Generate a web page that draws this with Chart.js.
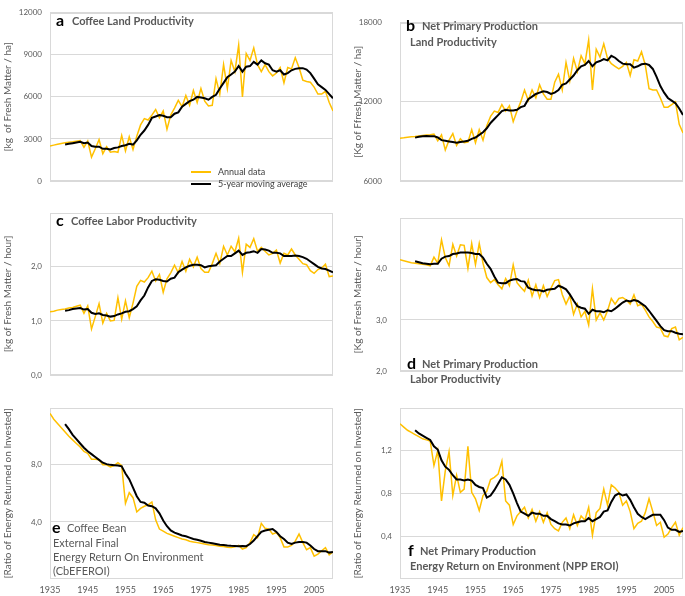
<!DOCTYPE html>
<html>
<head>
<meta charset="utf-8">
<script src="https://cdn.jsdelivr.net/npm/chart.js@4.4.1/dist/chart.umd.min.js"></script>
<style>
  body { margin: 0; background: #fff; }
  #wrap { position: relative; width: 685px; height: 596px; overflow: hidden; font-family: Lato, "Open Sans", sans-serif; }
  canvas { position: absolute; }
  .lbl { position: absolute; white-space: nowrap; line-height: 1; }
  .big { font-weight: bold; font-size: 16px; color: #000; }
  .t { font-weight: bold; font-size: 11px; color: #595959; }
  .tn { font-size: 11px; color: #595959; }
  .leg { position: absolute; font-size: 9px; color: #404040; white-space: nowrap; line-height: 1; }
  .swatch { position: absolute; width: 20px; height: 0; }
</style>
</head>
<body>
<div id="wrap">
  <canvas id="chartA" width="340" height="205" style="left:0;top:0"></canvas>
  <canvas id="chartB" width="340" height="205" style="left:345px;top:0"></canvas>
  <canvas id="chartC" width="340" height="200" style="left:0;top:200px"></canvas>
  <canvas id="chartD" width="340" height="200" style="left:345px;top:200px"></canvas>
  <canvas id="chartE" width="340" height="201" style="left:0;top:395px"></canvas>
  <canvas id="chartF" width="340" height="201" style="left:345px;top:395px"></canvas>

  <!-- panel labels -->
  <div class="lbl big" style="left:56px;top:12px">a</div>
  <div class="lbl t" style="left:72px;top:15px">Coffee Land Productivity</div>

  <div class="lbl big" style="left:406px;top:17px">b</div>
  <div class="lbl t" style="left:422px;top:20px">Net Primary Production</div>
  <div class="lbl t" style="left:410px;top:36px">Land Productivity</div>

  <div class="lbl big" style="left:56px;top:212px">c</div>
  <div class="lbl t" style="left:71px;top:215px">Coffee Labor Productivity</div>

  <div class="lbl big" style="left:407px;top:355px">d</div>
  <div class="lbl t" style="left:422px;top:358px">Net Primary Production</div>
  <div class="lbl t" style="left:410px;top:373px">Labor Productivity</div>

  <div class="lbl big" style="left:52px;top:519px">e</div>
  <div class="lbl tn" style="left:67px;top:522px">Coffee Bean</div>
  <div class="lbl tn" style="left:53px;top:537px">External Final</div>
  <div class="lbl tn" style="left:53px;top:551px">Energy Return On Environment</div>
  <div class="lbl tn" style="left:53px;top:565px">(CbEFEROI)</div>

  <div class="lbl big" style="left:408px;top:542px">f</div>
  <div class="lbl t" style="left:420px;top:545px">Net Primary Production</div>
  <div class="lbl t" style="left:410px;top:560px">Energy Return on Environment (NPP EROI)</div>

  <!-- legend of panel a -->
  <div class="swatch" style="left:191px;top:171px;border-top:2px solid #ffc000"></div>
  <div class="leg" style="left:218px;top:167px">Annual data</div>
  <div class="swatch" style="left:191px;top:183px;border-top:2px solid #000"></div>
  <div class="leg" style="left:218px;top:179px">5-year moving average</div>
</div>

<script>
// Years on the x axis and the labelled ticks
const years = [1935, 1936, 1937, 1938, 1939, 1940, 1941, 1942, 1943, 1944,
  1945, 1946, 1947, 1948, 1949, 1950, 1951, 1952, 1953, 1954,
  1955, 1956, 1957, 1958, 1959, 1960, 1961, 1962, 1963, 1964,
  1965, 1966, 1967, 1968, 1969, 1970, 1971, 1972, 1973, 1974,
  1975, 1976, 1977, 1978, 1979, 1980, 1981, 1982, 1983, 1984,
  1985, 1986, 1987, 1988, 1989, 1990, 1991, 1992, 1993, 1994,
  1995, 1996, 1997, 1998, 1999, 2000, 2001, 2002, 2003, 2004,
  2005, 2006, 2007, 2008, 2009, 2010];
const xTickYears = [1935, 1945, 1955, 1965, 1975, 1985, 1995, 2005];

// a - Coffee land productivity [kg / ha]
const landAnnual = [2500, 2560, 2620, 2680, 2730, 2770, 2800, 2840, 2880, 2400,
  2850, 1700, 2300, 2950, 1950, 2450, 2050, 2100, 2050, 3250,
  2150, 3150, 2250, 3200, 4000, 4450, 4350, 4700, 5100, 4500,
  5000, 3700, 4700, 5200, 5750, 5300, 6100, 5400, 6450, 5600,
  6600, 5700, 5350, 5400, 7300, 6200, 8300, 6600, 8600, 7800,
  9700, 6000, 9100, 8600, 9500, 8300, 7800, 8300, 7800, 7500,
  7700, 8100, 7000, 8100, 8000, 8800, 8100, 7200, 7100, 7050,
  6700, 6200, 6200, 6400, 5600, 5000];
const landMA = [null, null, null, null, 2600, 2650, 2700, 2750, 2800, 2700,
  2750, 2500, 2450, 2450, 2300, 2300, 2250, 2350, 2400, 2500,
  2550, 2650, 2600, 2900, 3300, 3600, 4000, 4500, 4600, 4700,
  4650, 4550, 4550, 4800, 4900, 5300, 5500, 5700, 5800, 6000,
  5950, 5900, 5800, 6000, 6150, 6600, 7000, 7400, 7600, 7800,
  8200, 7800, 8150, 8200, 8500, 8300, 8600, 8400, 8300, 7900,
  7800, 7900, 7600, 7700, 7900, 8000, 8050, 8050, 7950, 7700,
  7300, 6900, 6700, 6500, 6200, 5900];
const landTicks = [0, 3000, 6000, 9000, 12000];

// b - NPP land productivity [kg / ha]
const nppLandAnnual = [9250, 9280, 9320, 9350, 9380, 9420, 9450, 9480, 9500, 9550,
  9050, 9500, 8350, 9100, 9600, 8700, 9200, 8900, 8950, 9900,
  8900, 9900, 9100, 10200, 10900, 11300, 11200, 11800, 11300, 11700,
  10500, 11300, 12000, 12900, 12100, 12900, 12300, 13300, 12600, 12200,
  12200, 13500, 14100, 12900, 15000, 13600, 15300, 14300, 15500, 14900,
  16700, 12900, 16000, 15400, 16400, 15300, 14900, 14700, 14500, 14700,
  15000, 14000, 15200, 15100, 15800, 14800, 13000, 12900, 12900, 12300,
  11600, 11600, 11800, 12000, 10300, 9650];
const nppLandMA = [null, null, null, null, 9290, 9350, 9400, 9420, 9400, 9400,
  9300, 9100, 9050, 9000, 8950, 8900, 8950, 9000, 9050, 9200,
  9300, 9500, 9700, 10000, 10400, 10700, 11000, 11300, 11400, 11350,
  11350, 11400, 11600, 11700, 12200, 12400, 12600, 12700, 12800, 12750,
  12600, 12700, 12900, 13300, 13400, 13700, 14000, 14400, 14700, 14800,
  15100, 14700, 15000, 15100, 15250, 15150, 15500, 15350, 15100, 14900,
  14850, 14850, 14600, 14700, 14850, 14900, 14800, 14500, 13900, 13200,
  12700, 12300, 12100, 11900, 11500, 11000];
const nppLandTicks = [6000, 12000, 18000];

// c - Coffee labor productivity [kg / hour]
const laborAnnual = [1.17, 1.18, 1.2, 1.21, 1.22, 1.24, 1.25, 1.27, 1.29, 1.14,
  1.28, 0.85, 1.08, 1.32, 0.96, 1.14, 1.0, 1.01, 1.43, 1.03,
  1.37, 1.06, 1.33, 1.64, 1.75, 1.72, 1.8, 1.92, 1.74, 1.86,
  1.53, 1.78, 1.89, 2.03, 1.89, 2.1, 1.92, 2.14, 2.0, 2.18,
  1.97, 1.9, 1.9, 2.06, 2.25, 2.06, 2.38, 2.22, 2.38, 2.28,
  2.53, 1.9, 2.42, 2.36, 2.52, 2.29, 2.36, 2.29, 2.22, 2.25,
  2.31, 2.07, 2.25, 2.22, 2.33, 2.22, 2.14, 2.06, 2.04, 1.93,
  1.88, 1.95, 1.98, 2.05, 1.82, 1.83];
const laborMA = [null, null, null, null, 1.19, 1.2, 1.22, 1.23, 1.24, 1.21,
  1.22, 1.15, 1.13, 1.14, 1.11, 1.1, 1.08, 1.09, 1.12, 1.14,
  1.17, 1.18, 1.22, 1.27, 1.38, 1.47, 1.62, 1.74, 1.77, 1.76,
  1.74, 1.73, 1.78, 1.8, 1.9, 1.95, 1.99, 2.02, 2.04, 2.04,
  2.03, 1.99, 2.01, 2.02, 2.03, 2.1, 2.15, 2.2, 2.2, 2.25,
  2.3, 2.22, 2.26, 2.27, 2.29, 2.26, 2.33, 2.32, 2.3, 2.26,
  2.26, 2.25, 2.2, 2.2, 2.2, 2.21, 2.2, 2.18, 2.15, 2.1,
  2.05, 2.0, 1.97, 1.96, 1.93, 1.9];
const laborTicks = [0, 1, 2];

// d - NPP labor productivity [kg / hour]
const nppLaborAnnual = [4.18, 4.16, 4.14, 4.12, 4.11, 4.1, 4.09, 4.08, 4.06, 4.23,
  4.11, 4.57, 4.22, 4.06, 4.48, 4.25, 4.47, 4.46, 4.01, 4.5,
  4.08, 4.5, 4.11, 3.83, 3.73, 3.79, 3.69, 3.61, 3.81, 3.67,
  4.08, 3.73, 3.64, 3.56, 3.78, 3.47, 3.69, 3.44, 3.67, 3.46,
  3.62, 3.77, 3.79, 3.5, 3.31, 3.47, 3.11, 3.31, 3.06, 3.17,
  2.9, 3.61, 3.0, 3.14, 3.0, 3.18, 3.42, 3.31, 3.42, 3.44,
  3.39, 3.31, 3.49, 3.28, 3.31, 3.19, 3.06, 2.97, 2.86, 2.84,
  2.69, 2.67, 2.83, 2.86, 2.61, 2.66];
const nppLaborMA = [null, null, null, null, 4.15, 4.13, 4.11, 4.1, 4.09, 4.1,
  4.1, 4.2, 4.24, 4.25, 4.29, 4.3, 4.32, 4.32, 4.32, 4.31,
  4.29, 4.29, 4.22, 4.1, 4.0, 3.85, 3.73, 3.72, 3.72, 3.77,
  3.79, 3.8, 3.76, 3.75, 3.63, 3.6, 3.58, 3.58, 3.56, 3.59,
  3.6, 3.61, 3.67, 3.64, 3.6, 3.5, 3.38, 3.27, 3.24, 3.22,
  3.12, 3.2, 3.17, 3.17, 3.15, 3.19, 3.17, 3.22, 3.28, 3.34,
  3.38, 3.36, 3.39, 3.37, 3.32, 3.27, 3.18, 3.08, 2.98, 2.88,
  2.8, 2.78, 2.78, 2.75, 2.73, 2.72];
const nppLaborTicks = [2, 3, 4];

// e - Coffee bean external final EROI
const eroiAnnual = [11.6, 11.2, 10.9, 10.6, 10.3, 10.0, 9.75, 9.5, 9.25, 8.95,
  8.8, 8.4, 8.4, 8.35, 8.0, 8.0, 7.85, 7.95, 8.15, 7.95,
  5.3, 6.05, 5.7, 4.7, 4.95, 5.1, 5.2, 5.4, 4.15, 3.5,
  3.35, 3.2, 3.1, 3.0, 2.9, 2.8, 2.75, 2.65, 2.6, 2.55,
  2.5, 2.45, 2.4, 2.38, 2.35, 2.3, 2.28, 2.22, 2.2, 2.25,
  2.35, 2.1, 2.2, 2.55, 3.1, 2.9, 3.9, 3.55, 3.5, 3.15,
  3.25, 2.9, 2.25, 2.25, 2.35, 2.65, 3.15, 2.55, 2.05, 2.2,
  1.6, 1.75, 1.98, 2.2, 1.7, 1.9];
const eroiMA = [null, null, null, null, 10.85, 10.5, 10.1, 9.8, 9.5, 9.2,
  8.95, 8.75, 8.55, 8.35, 8.15, 8.05, 8.0, 7.98, 7.95, 7.9,
  7.4, 7.0, 6.4, 5.8, 5.4, 5.35, 5.15, 5.1, 4.95, 4.6,
  4.1, 3.7, 3.4, 3.25, 3.15, 3.05, 3.0, 2.9, 2.8, 2.75,
  2.68, 2.6, 2.55, 2.5, 2.45, 2.4, 2.38, 2.35, 2.33, 2.32,
  2.3, 2.32, 2.3, 2.45, 2.7, 3.0, 3.3, 3.4, 3.45, 3.5,
  3.3, 3.0, 2.8, 2.55, 2.45, 2.55, 2.6, 2.6, 2.55, 2.35,
  2.1, 1.95, 1.95, 1.95, 1.85, 1.9];
const eroiTicks = [4, 8];

// f - NPP energy return on environment
const nppEroiAnnual = [1.45, 1.42, 1.39, 1.37, 1.35, 1.33, 1.31, 1.3, 1.29, 1.06,
  1.2, 0.73, 1.01, 1.19, 0.78, 0.97, 0.81, 0.84, 1.24, 0.81,
  0.75, 0.64, 0.78, 0.82, 0.93, 0.95, 0.98, 1.1, 0.73, 0.69,
  0.51, 0.59, 0.63, 0.67, 0.57, 0.65, 0.54, 0.63, 0.53, 0.62,
  0.51, 0.47, 0.45, 0.53, 0.57, 0.47, 0.6, 0.5, 0.59, 0.55,
  0.67, 0.41, 0.62, 0.66, 0.84, 0.69, 0.88, 0.85, 0.81, 0.69,
  0.73, 0.63, 0.47, 0.52, 0.54, 0.62, 0.75, 0.63, 0.5, 0.53,
  0.39, 0.42, 0.48, 0.53, 0.41, 0.48];
const nppEroiMA = [null, null, null, null, 1.39, 1.36, 1.34, 1.32, 1.3, 1.24,
  1.21, 1.11, 1.05, 1.02, 0.97, 0.93, 0.93, 0.92, 0.93, 0.92,
  0.88, 0.86, 0.85, 0.76, 0.78, 0.83, 0.89, 0.95, 0.93, 0.88,
  0.8, 0.71, 0.63, 0.61, 0.59, 0.62, 0.61, 0.61, 0.59, 0.59,
  0.56, 0.54, 0.52, 0.51, 0.51, 0.5, 0.52, 0.53, 0.54, 0.54,
  0.57, 0.54, 0.56, 0.58, 0.63, 0.64, 0.72, 0.78, 0.8, 0.78,
  0.79, 0.74, 0.67, 0.61, 0.58, 0.56, 0.58, 0.6, 0.6, 0.6,
  0.55, 0.48, 0.46, 0.46, 0.44, 0.45];
const nppEroiTicks = [0.4, 0.8, 1.2];

const GREY = '#595959';
const GRID = '#d9d9d9';
const FONT = 'Lato, "Open Sans", sans-serif';

// pairs each value with its year for the linear x axis
function toPoints(values) {
  return values.map((v, i) => ({ x: years[i], y: v }));
}

// light grey frame around each plot area (like the Excel panels)
const panelBox = {
  id: 'panelBox',
  beforeDatasetsDraw(chart) {
    const a = chart.chartArea;
    const ctx = chart.ctx;
    ctx.save();
    ctx.strokeStyle = GRID;
    ctx.lineWidth = 1;
    ctx.strokeRect(Math.round(a.left) + 0.5, Math.round(a.top) + 0.5,
      Math.round(a.right - a.left) - 1, Math.round(a.bottom - a.top) - 1);
    ctx.restore();
  }
};

function makePanel(id, o) {
  const ctx = document.getElementById(id).getContext('2d');
  return new Chart(ctx, {
    type: 'line',
    data: {
      datasets: [
        { label: '5-year moving average', data: toPoints(o.ma), borderColor: '#000', borderWidth: 2 },
        { label: 'Annual data', data: toPoints(o.annual), borderColor: '#ffc000', borderWidth: 1.5 }
      ]
    },
    options: {
      responsive: false,
      animation: false,
      events: [],
      elements: { point: { radius: 0 }, line: { tension: 0 } },
      layout: { autoPadding: false, padding: o.padding },
      plugins: { legend: { display: false }, tooltip: { enabled: false } },
      scales: {
        x: {
          type: 'linear',
          min: 1935,
          max: 2010,
          display: o.showX,
          grid: { display: false, drawTicks: false },
          border: { display: false },
          afterBuildTicks: (s) => { s.ticks = xTickYears.map(v => ({ value: v })); },
          afterFit: (s) => { s.height = 17; },
          ticks: {
            color: GREY, padding: 6, maxRotation: 0, autoSkip: false,
            font: { family: FONT, size: 9 },
            callback: (v) => String(v)
          }
        },
        y: {
          min: o.min,
          max: o.max,
          grid: { color: GRID, drawTicks: false },
          border: { display: false },
          afterBuildTicks: (s) => { s.ticks = o.ticks.map(v => ({ value: v })); },
          afterFit: (s) => { s.width = 48; },
          ticks: {
            color: GREY, padding: o.tickPad,
            font: { family: FONT, size: 8 },
            callback: (v) => o.decimals ? v.toFixed(1).replace('.', ',') : String(v)
          },
          title: {
            display: true, text: o.title, color: GREY, padding: 0,
            font: { family: FONT, size: 10 }
          }
        }
      }
    },
    plugins: [panelBox]
  });
}

makePanel('chartA', { annual: landAnnual, ma: landMA, ticks: landTicks, min: 0, max: 12000,
  title: '[kg  of Fresh Matter / ha]', padding: { left: 2, top: 5, right: 7, bottom: 7 }, tickPad: 8, showX: false });
makePanel('chartB', { annual: nppLandAnnual, ma: nppLandMA, ticks: nppLandTicks, min: 6000, max: 18000,
  title: '[Kg of Ffresh Matter / ha]', padding: { left: 7, top: 7, right: 2, bottom: 7 }, tickPad: 18, showX: false });
makePanel('chartC', { annual: laborAnnual, ma: laborMA, ticks: laborTicks, min: 0, max: 3, decimals: true,
  title: '[kg of Fresh Matter / hour]', padding: { left: 2, top: 8, right: 7, bottom: 8 }, tickPad: 8, showX: false });
makePanel('chartD', { annual: nppLaborAnnual, ma: nppLaborMA, ticks: nppLaborTicks, min: 2, max: 5, decimals: true,
  title: '[Kg of Fresh Matter / hour]', padding: { left: 7, top: 8, right: 2, bottom: 12 }, tickPad: 13, showX: false });
makePanel('chartE', { annual: eroiAnnual, ma: eroiMA, ticks: eroiTicks, min: 0, max: 12, decimals: true,
  title: '[Ratio of Energy Returned on Invested]', padding: { left: 2, top: 5, right: 7, bottom: 0 }, tickPad: 8, showX: true });
makePanel('chartF', { annual: nppEroiAnnual, ma: nppEroiMA, ticks: nppEroiTicks, min: 0, max: 1.6, decimals: true,
  title: '[Ratio of Energy Returned on Invested]', padding: { left: 7, top: 5, right: 2, bottom: 0 }, tickPad: 8, showX: true });
</script>
</body>
</html>
